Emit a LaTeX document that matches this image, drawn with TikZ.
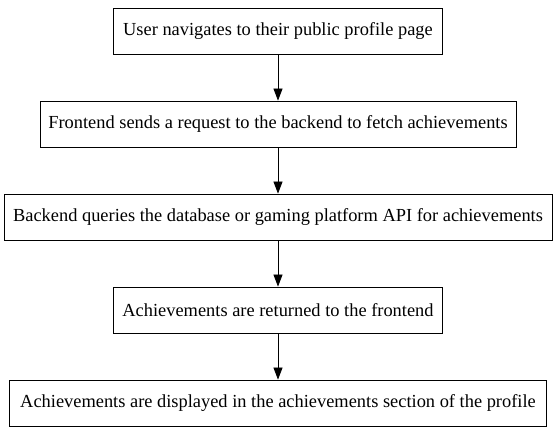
\documentclass[tikz,border=0pt]{standalone}
\usepackage{fontspec}
\setmainfont{Liberation Serif}
\usetikzlibrary{arrows.meta}
\begin{document}
\begin{tikzpicture}[x=1pt,y=1pt,
  stepbox/.style={draw=black, line width=0.8pt, inner sep=0pt, minimum height=46pt, font=\fontsize{18.4}{21}\selectfont},
  flow/.style={-{Triangle[length=12pt,width=9pt]}, line width=0.8pt}]
\useasboundingbox (0,0) rectangle (557,443);
\node[stepbox, minimum width=329pt] (a) at (278,412) {User navigates to their public profile page};
\node[stepbox, minimum width=476pt] (b) at (278,319) {Frontend sends a request to the backend to fetch achievements};
\node[stepbox, minimum width=548pt] (c) at (278,226) {Backend queries the database or gaming platform API for achievements};
\node[stepbox, minimum width=329pt] (d) at (278,133) {Achievements are returned to the frontend};
\node[stepbox, minimum width=537pt] (e) at (278,40) {Achievements are displayed in the achievements section of the profile};
\draw[flow] (a) -- (b);
\draw[flow] (b) -- (c);
\draw[flow] (c) -- (d);
\draw[flow] (d) -- (e);
\end{tikzpicture}
\end{document}
